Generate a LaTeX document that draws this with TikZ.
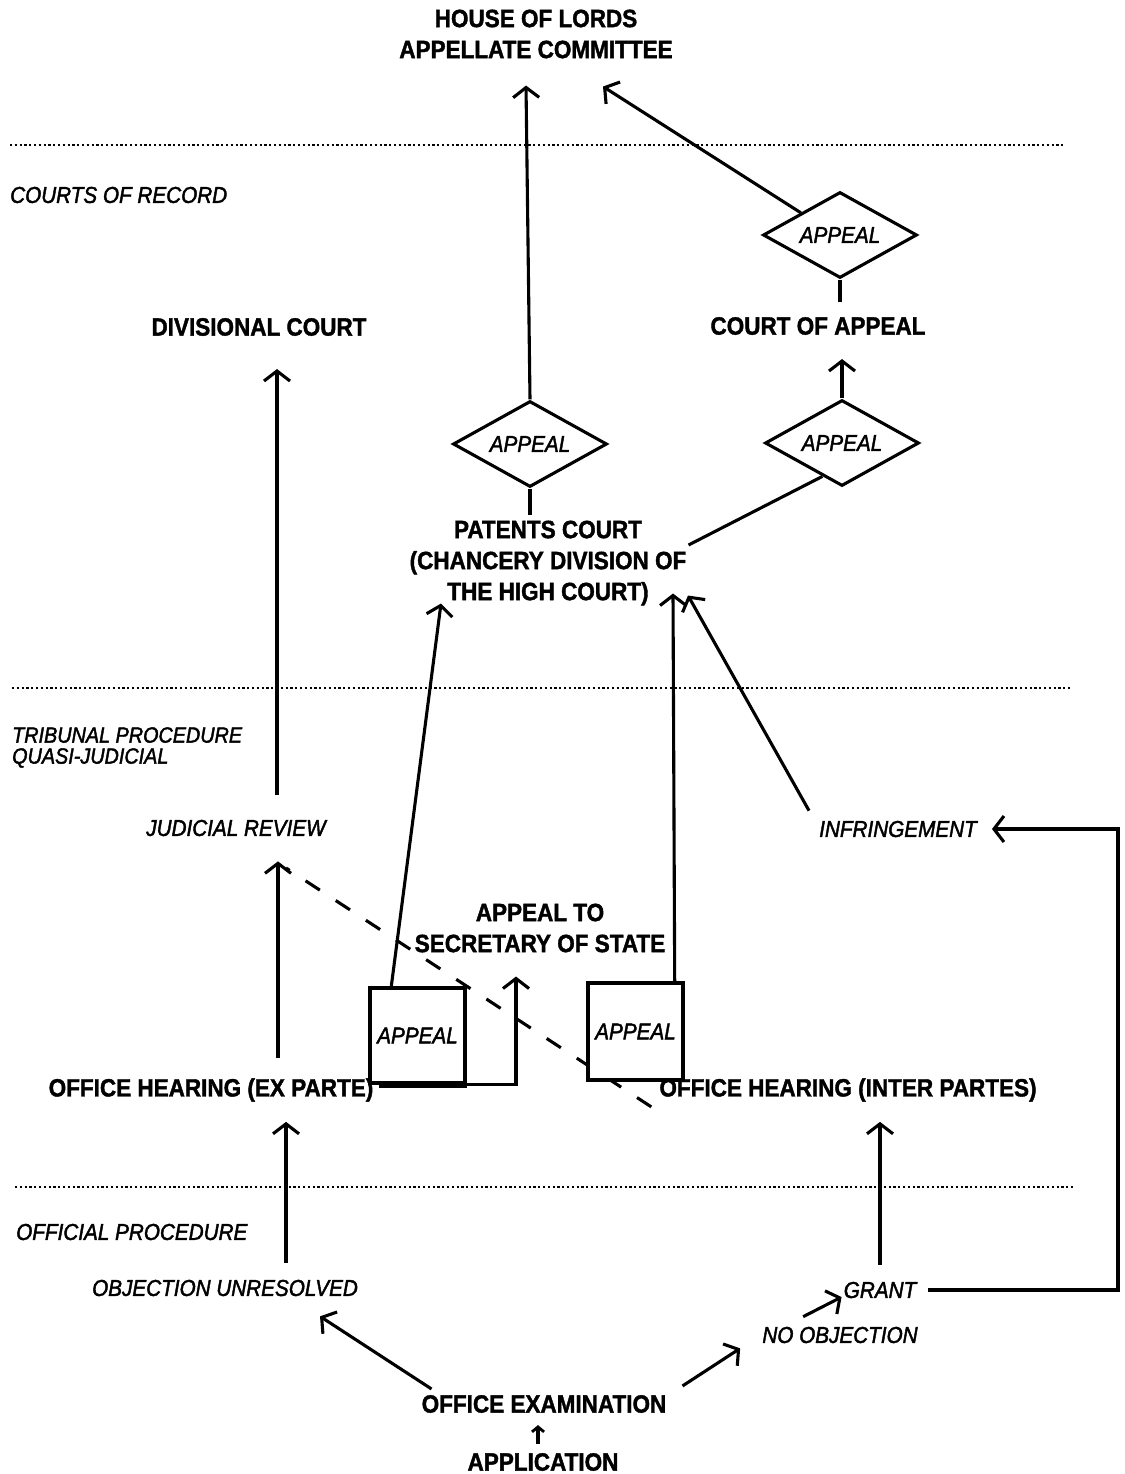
\documentclass[tikz,border=0pt]{standalone}
\usepackage{fontspec}
\setmainfont{Liberation Sans}
\newfontfamily\hbf[FakeStretch=0.9,FakeBold=1.5]{Liberation Sans}
\newfontfamily\hit[FakeStretch=0.9,FakeBold=1.8]{Liberation Sans}
\usetikzlibrary{arrows.meta,shapes.geometric,calc}
\begin{document}
\begin{tikzpicture}[x=1pt,y=-1pt,
 lbl/.style={font=\hbf\fontsize{25}{31}\selectfont\bfseries, align=center, inner sep=0pt},
 itl/.style={font=\hit\fontsize{23}{21}\selectfont\itshape, inner sep=0pt, align=left},
 sepline/.style={line width=1.8pt, dash pattern=on 2.2pt off 2.6pt},
 con/.style={line width=3.1pt},
 arr/.style={con, -{Straight Barb[length=10pt,width=26pt,line width=3.1pt]}},
 smallarr/.style={con, -{Straight Barb[length=5pt,width=12pt,line width=2.8pt]}},
 dia/.style={diamond, draw, line width=3.1pt, inner sep=0pt, aspect=1.8, minimum width=154pt, minimum height=86pt, font=\hit\fontsize{23}{21}\selectfont\itshape},
 abox/.style={draw, line width=3.4pt, rectangle, inner sep=0pt, fill=white, font=\hit\fontsize{23}{21}\selectfont\itshape}]
\useasboundingbox (0,0) rectangle (1124,1474);
\fill[white] (0,0) rectangle (1124,1474);

% separators
\draw[sepline] (10,145) -- (1065,145);
\draw[sepline] (12,688) -- (1072,688);
\draw[sepline] (15,1187) -- (1075,1187);

% section labels
\node[itl, anchor=west] (secA) at (10,195) {COURTS OF RECORD};
\node[itl, anchor=west, font=\hit\fontsize{22}{21}\selectfont\itshape] (secB) at (12,747.5) {TRIBUNAL PROCEDURE\\QUASI-JUDICIAL};
\node[itl, anchor=west] (secC) at (16,1232) {OFFICIAL PROCEDURE};

% main nodes
\node[lbl] (hol) at (536,34) {HOUSE OF LORDS\\APPELLATE COMMITTEE};
\node[dia] (dTop) at (840,235) {APPEAL};
\node[lbl] (coa) at (818,326) {COURT OF APPEAL};
\node[lbl] (div) at (259,327) {DIVISIONAL COURT};
\node[dia] (dL) at (530,444) {APPEAL};
\node[dia] (dR) at (842,443) {APPEAL};
\node[lbl] (pc) at (548,563) {PATENTS COURT\\(CHANCERY DIVISION OF\\THE HIGH COURT)};
\node[itl] (jr) at (236,828) {JUDICIAL REVIEW};
\node[itl] (inf) at (898,829) {INFRINGEMENT};
\node[lbl] (sos) at (540,928) {APPEAL TO\\SECRETARY OF STATE};
\node[lbl] (ohx) at (211,1090) {OFFICE HEARING (EX PARTE)};
\node[lbl] (ohi) at (848,1090) {OFFICE HEARING (INTER PARTES)};
\node[itl] (ou) at (225,1288) {OBJECTION UNRESOLVED};
\node[itl] (grant) at (880,1290) {GRANT};
\node[itl] (noobj) at (840,1335) {NO OBJECTION};
\node[lbl] (exam) at (544,1404) {OFFICE EXAMINATION};
\node[lbl] (app) at (543,1462) {APPLICATION};

% dashed connector (behind boxes)
\draw[con, dash pattern=on 17pt off 19pt] ($(ohi.south west)+(-8,5)$) -- (286,868);

% appeal boxes
\node[abox, minimum width=95pt, minimum height=95pt] (b1) at (417.5,1035.5) {APPEAL};
\node[abox, minimum width=95pt, minimum height=97pt] (b2) at (635.5,1031.5) {APPEAL};

% named tips
\coordinate (holA) at ($(hol.south)+(-10,27)$);
\coordinate (holB) at ($(hol.south)+(67,28)$);
\coordinate (coaB) at ($(coa.south -| dR.north)+(0,24)$);
\coordinate (pcR) at ($(pc.east)+(2,-18)$);
\coordinate (pcA) at ($(pc.south)+(-107,-2)$);
\coordinate (pcB) at ($(pc.south)+(125,-12)$);
\coordinate (pcC) at ($(pc.south)+(140,-10)$);
\coordinate (divB) at ($(div.south)+(18,33)$);
\coordinate (jrB) at ($(jr.south)+(42,25)$);
\coordinate (sosB) at ($(sos.south)+(-24,24)$);
\coordinate (ohxB) at ($(ohx.south)+(75,20)$);
\coordinate (ohiB) at ($(ohi.south)+(32,20)$);
\coordinate (infE) at ($(inf.east)+(15,0)$);
\coordinate (ouB) at ($(ou.south)+(95,20)$);

% connectors
\draw[arr] (dL.north) -- (holA);
\draw[arr] (dTop.north west) -- (holB);
\draw[con, shorten >=15pt] (dTop.south) -- (dTop.south |- coa.north);
\draw[arr] (dR.north) -- (coaB);
\draw[con] ($(dR.west)!0.75!(dR.south)$) -- (pcR);
\draw[con, shorten >=5pt] (dL.south) -- (dL.south |- pc.north);
\draw[arr, shorten <=25pt] (jr.north -| divB) -- (divB);
\draw[arr, shorten <=20pt] (ohx.north -| jrB) -- (jrB);
\draw[arr] ([xshift=23pt]b1.north west) -- (pcA);
\draw[arr] ([xshift=-10pt]b2.north east) -- (pcB);
\draw[arr] ($(inf.north west)+(-10,-10)$) -- (pcC);
\draw[line width=6.5pt] ([xshift=11pt]b1.south west) -- (b1.south east);
\draw[arr] (b1.south east) -- (b1.south east -| sosB) -- (sosB);
\draw[arr] ([xshift=12pt]grant.east) -- (1118,1290) |- (infE);
\draw[arr, shorten <=17pt] (grant.north -| ohiB) -- (ohiB);
\draw[arr, shorten <=17pt] (ou.north -| ohxB) -- (ohxB);
\draw[arr] ($(exam.north west)+(10,-6)$) -- (ouB);
\draw[arr] ($(exam.north east)+(16,-9)$) -- ($(noobj.south west)+(-22,5)$);
\draw[arr] ($(noobj.north west)+(41,-10)$) -- ($(grant.west)+(-2,7)$);
\draw[smallarr] ($(app.north)+(-5,-9)$) -- ($(exam.south)+(-6,12)$);
\end{tikzpicture}
\end{document}
